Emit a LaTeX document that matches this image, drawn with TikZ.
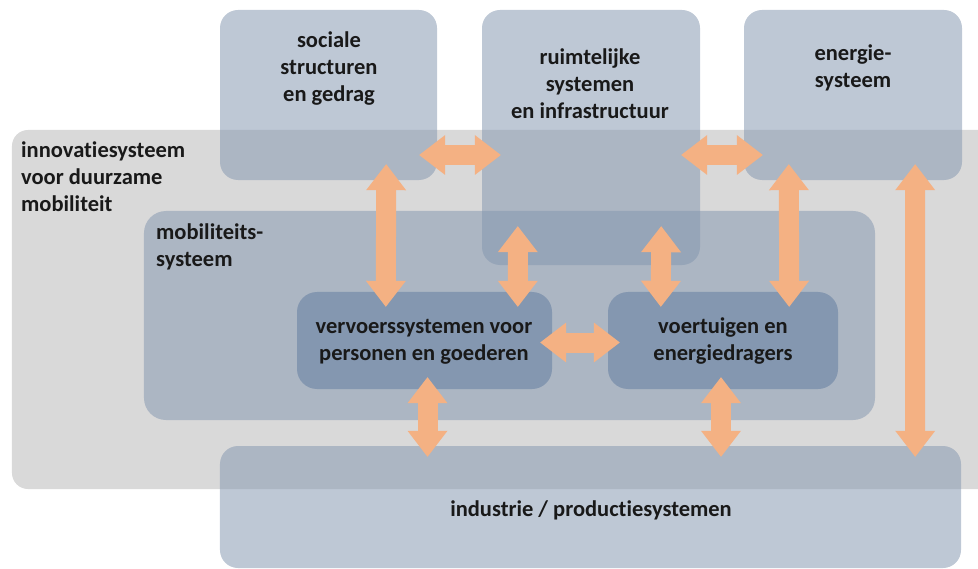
\documentclass[tikz,border=0pt]{standalone}
\usepackage{fontspec}
\setmainfont{Carlito}[Ligatures={NoCommon}]
\usetikzlibrary{arrows.meta}
\definecolor{grijs}{HTML}{D9D9D9}
\definecolor{blauwgrijs}{HTML}{8497B0}
\definecolor{oranje}{HTML}{F4B183}
\begin{document}
\begin{tikzpicture}[x=1bp,y=1bp,
    vlak/.style={rectangle, rounded corners=18bp, inner sep=0pt, fill=blauwgrijs, fill opacity=0.53},
    kern/.style={rectangle, rounded corners=20bp, inner sep=0pt, fill=blauwgrijs},
    lbl/.style={font=\bfseries\fontsize{22.5bp}{27bp}\selectfont, align=center, inner sep=0pt, text=black!90},
    dbl/.style={line width=20bp, draw=oranje,
      {Triangle[width=40bp,length=26bp,line width=0pt]}-{Triangle[width=40bp,length=26bp,line width=0pt]}}]
    \useasboundingbox (0,0) rectangle (978,-569);
    \clip (0,0) rectangle (978,-569);
      \node[rectangle, rounded corners=16bp, fill=grijs, minimum width=988bp, minimum height=359bp] (inov) at (506,-309.5) {};
      \node[vlak, minimum width=217bp, minimum height=170bp] (soc) at (328.5,-95) {};
      \node[vlak, minimum width=218bp, minimum height=255bp] (ruim) at (591,-137.5) {};
      \node[vlak, minimum width=218bp, minimum height=170bp] (energ) at (853,-95) {};
      \node[vlak, rounded corners=22bp, minimum width=731bp, minimum height=209bp] (mob) at (509.5,-315.5) {};
      \node[kern, minimum width=255bp, minimum height=97bp] (vv) at (424.5,-340.5) {};
      \node[kern, minimum width=230bp, minimum height=97bp] (voert) at (723,-340.5) {};
      \node[vlak, minimum width=741bp, minimum height=122bp] (ind) at (590.5,-507) {};
      % teksten
      \node[lbl] (t-soc) at (329,-69) {sociale\\structuren\\en gedrag};
      \node[lbl] (t-ruim) at (590,-84) {ruimtelijke\\systemen\\en infrastructuur};
      \node[lbl] (t-energ) at (853,-68) {energie-\\systeem};
      \node[lbl, align=left, anchor=west] (t-inov) at (21,-176.5) {innovatiesysteem\\voor duurzame\\mobiliteit};
      \node[lbl, align=left, anchor=west] (t-mob) at (156,-247) {mobiliteits-\\systeem};
      \node[lbl] (t-vv) at (424,-341.5) {vervoerssystemen voor\\personen en goederen};
      \node[lbl] (t-voert) at (723,-341.5) {voertuigen en\\energiedragers};
      \node[lbl] (t-ind) at (591,-510) {industrie / productiesystemen};
      % pijlen
      \draw[dbl] ([xshift=-18bp,yshift=-60bp]soc.east) -- ([xshift=19bp,yshift=-60bp]soc.east -| ruim.west);
      \draw[dbl] ([xshift=-19bp,yshift=-60bp]energ.west -| ruim.east) -- ([xshift=19bp,yshift=-60bp]energ.west);
      \draw[dbl] ([xshift=-12bp,yshift=-2bp]vv.east) -- ([xshift=12bp,yshift=-2bp]voert.west);
      \draw[dbl] ([xshift=-51bp,yshift=16bp]soc.south east) -- ([xshift=89bp,yshift=-15bp]vv.north west);
      \draw[dbl] ([xshift=36bp,yshift=39bp]ruim.south west) -- ([xshift=221bp,yshift=-15bp]vv.north west);
      \draw[dbl] ([xshift=-39bp,yshift=39bp]ruim.south east) -- ([xshift=53bp,yshift=-15bp]voert.north west);
      \draw[dbl] ([xshift=45bp,yshift=16bp]energ.south west) -- ([xshift=-49bp,yshift=-15bp]voert.north east);
      \draw[dbl] ([xshift=-47bp,yshift=16bp]energ.south east) -- ([xshift=-46bp,yshift=-11bp]ind.north east);
      \draw[dbl] ([xshift=3bp,yshift=12bp]vv.south) -- ([xshift=3bp,yshift=-11bp]vv.south |- ind.north);
      \draw[dbl] ([xshift=-2bp,yshift=12bp]voert.south) -- ([xshift=-2bp,yshift=-11bp]voert.south |- ind.north);
    \end{tikzpicture}
\end{document}
